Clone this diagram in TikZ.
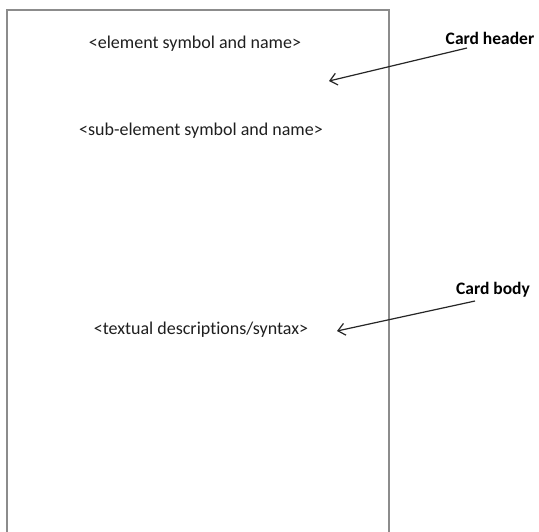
\documentclass[tikz,border=0pt]{standalone}
\usepackage{fontspec}
\setmainfont[Ligatures={NoCommon}]{Carlito}
\usetikzlibrary{arrows.meta}
\begin{document}
\begin{tikzpicture}[x=1pt,y=-1pt,
  cardline/.style={draw=black!45,line width=2.6pt},
  cardtext/.style={font=\fontsize{18}{21}\selectfont,text=black!88,inner sep=0pt},
  labeltext/.style={font=\fontsize{17.5}{20}\selectfont\bfseries,text=black,inner sep=0pt},
  pointer/.style={draw=black!85,line width=1.2pt,-{Straight Barb[length=7pt,width=12pt]}}]
\useasboundingbox (0,0) rectangle (539,531);
\fill[white] (0,0) rectangle (539,531);
\draw[cardline] (7,540) -- (7,10) -- (389,10) -- (389,540);
\node[cardtext] (elem) at (195,44) {<element symbol and name>};
\node[cardtext] (sub) at (201,131) {<sub-element symbol and name>};
\node[cardtext] (text) at (201,330) {<textual descriptions/syntax>};
\node[labeltext] (hdr) at (490,38) {Card header};
\node[labeltext] (body) at (493,290) {Card body};
\coordinate (hs) at (467,48);
\coordinate (bs) at (475,301);
\coordinate (hdrtip) at (329,81);
\coordinate (bodytip) at (337,331);
\draw[pointer] (hs) -- (hdrtip);
\draw[pointer] (bs) -- (bodytip);
\end{tikzpicture}
\end{document}
